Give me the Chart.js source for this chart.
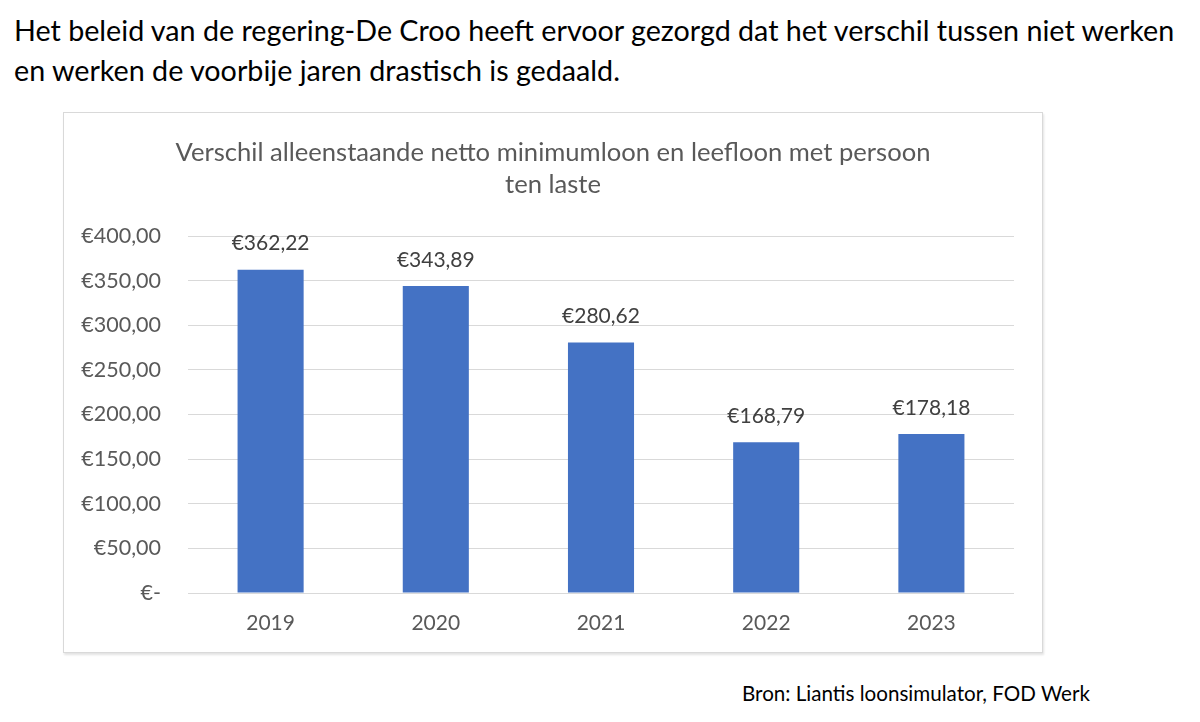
<!DOCTYPE html>
<html>
<head>
    <title>Verschil minimumloon en leefloon</title>
    <script src="https://cdn.jsdelivr.net/npm/chart.js"></script>
    <style>
        body { margin: 0; background: #fff; font-family: Lato, "Open Sans", sans-serif; }
        #headline { position: absolute; left: 14px; top: 10px; width: 1190px; font-size: 28.7px; line-height: 40px; color: #000; white-space: nowrap; }
        #box { position: absolute; left: 63px; top: 112px; width: 978px; height: 539px; border: 1px solid #d9d9d9; box-shadow: 1px 2px 2px #e4e4e4; background: #fff; }
        #source { position: absolute; left: 742px; top: 681px; font-size: 20.6px; color: #000; }
    </style>
</head>
<body>
    <div id="headline">Het beleid van de regering-De Croo heeft ervoor gezorgd dat het verschil tussen niet werken<br>en werken de voorbije jaren drastisch is gedaald.</div>
    <div id="box"><canvas id="gapChart" width="978" height="539"></canvas></div>
    <div id="source">Bron: Liantis loonsimulator, FOD Werk</div>
    <script>
        var years = ['2019', '2020', '2021', '2022', '2023'];
        var gapValues = [362.22, 343.89, 280.62, 168.79, 178.18];
        var chartTitle = ['Verschil alleenstaande netto minimumloon en leefloon met persoon', 'ten laste'];

        function euro(v) {
            if (v === 0) return '€-';
            return '€' + v.toFixed(2).replace('.', ',');
        }

        // titel gecentreerd over het hele kader (niet over het plotgebied)
        var boxTitle = {
            id: 'boxTitle',
            afterDraw: function (chart) {
                var c = chart.ctx;
                c.save();
                c.font = '25.6px Lato, sans-serif';
                c.fillStyle = '#595959';
                c.textAlign = 'center';
                c.textBaseline = 'middle';
                chartTitle.forEach(function (line, i) {
                    c.fillText(line, chart.width / 2, 40 + i * 32);
                });
                c.restore();
            }
        };

        // labels boven de staven
        var valueLabels = {
            id: 'valueLabels',
            afterDatasetsDraw: function (chart) {
                var c = chart.ctx;
                var meta = chart.getDatasetMeta(0);
                c.save();
                c.font = '21px Lato, sans-serif';
                c.fillStyle = '#404040';
                c.textAlign = 'center';
                c.textBaseline = 'middle';
                meta.data.forEach(function (bar, i) {
                    c.fillText(euro(gapValues[i]), bar.x, bar.y - 26);
                });
                c.restore();
            }
        };

        var ctx = document.getElementById('gapChart').getContext('2d');
        var gapChart = new Chart(ctx, {
            type: 'bar',
            data: {
                labels: years,
                datasets: [{
                    data: gapValues,
                    backgroundColor: '#4472c4',
                    categoryPercentage: 0.4,
                    barPercentage: 1
                }]
            },
            options: {
                responsive: false,
                animation: false,
                layout: { padding: { left: 0, right: 28, top: 123, bottom: 0 } },
                plugins: {
                    legend: { display: false },
                    tooltip: { enabled: false },
                    title: { display: false }
                },
                scales: {
                    x: {
                        grid: { display: false },
                        border: { display: false },
                        ticks: { color: '#595959', font: { family: 'Lato', size: 21 }, padding: 10 },
                        afterFit: function (s) { s.height = 59; }
                    },
                    y: {
                        min: 0,
                        max: 400,
                        ticks: {
                            stepSize: 50,
                            color: '#595959',
                            font: { family: 'Lato', size: 21.5 },
                            padding: 27,
                            callback: function (v) { return euro(v); }
                        },
                        grid: { color: '#d9d9d9', drawTicks: false },
                        border: { display: false },
                        afterFit: function (s) { s.width = 124; }
                    }
                }
            },
            plugins: [boxTitle, valueLabels]
        });
    </script>
</body>
</html>
